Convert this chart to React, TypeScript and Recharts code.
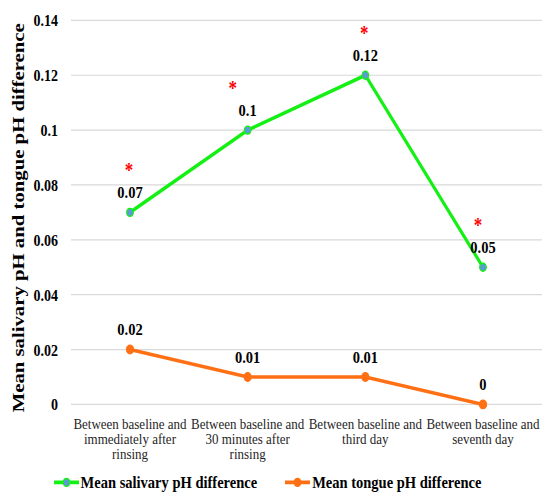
import React from "react";
import { LineChart, Line, XAxis, YAxis, CartesianGrid, Legend, LabelList } from "recharts";

const categories = [
  "Between baseline and immediately after rinsing",
  "Between baseline and 30 minutes after rinsing",
  "Between baseline and third day",
  "Between baseline and seventh day",
];
const categoryLines = [
  ["Between baseline and", "immediately after", "rinsing"],
  ["Between baseline and", "30 minutes after", "rinsing"],
  ["Between baseline and", "third day"],
  ["Between baseline and", "seventh day"],
];
const salivary = [0.07, 0.1, 0.12, 0.05];
const tongue = [0.02, 0.01, 0.01, 0];
const significant = [true, true, true, true];
const yTicks = [0, 0.02, 0.04, 0.06, 0.08, 0.1, 0.12, 0.14];

// small sideways nudges for the significance stars
const starNudge = [-1, -15, -1, -5];

const SERIF = '"Liberation Serif", "Times New Roman", serif';
const GREEN = "#14F014";
const ORANGE = "#FF7015";
const DOT_BLUE = "#5B9BD5";

const rows = categories.map((name, i) => ({
  name,
  salivary: salivary[i],
  tongue: tongue[i],
}));

const W = 542;
const H = 410;
const STRETCH = 1.2;

function CategoryTick(props: any) {
  const { x, y, index } = props;
  const lines = categoryLines[index] || [];
  return (
    <text x={x} y={y} textAnchor="middle" fontFamily={SERIF} fontSize={13} fill="#262626">
      {lines.map((l, i) => (
        <tspan key={i} x={x} y={y + 20.5 + i * 12.5}>
          {l}
        </tspan>
      ))}
    </text>
  );
}

function ValueTick(props: any) {
  const { x, y, payload } = props;
  const v = Number(Number(payload.value).toFixed(2));
  return (
    <text
      x={x}
      y={y}
      dy={5}
      textAnchor="end"
      fontFamily={SERIF}
      fontSize={14}
      fontWeight="bold"
      fill="#000"
    >
      {String(v)}
    </text>
  );
}

function Star(props: any) {
  const { index } = props;
  const vb = props.viewBox || {};
  const x = vb.x ?? props.x;
  const y = vb.y ?? props.y;
  if (!significant[index]) return null;
  return (
    <text
      x={x + starNudge[index]}
      y={y - 29.5}
      textAnchor="middle"
      fontFamily={SERIF}
      fontSize={17}
      fontWeight="bold"
      fill="#FF0000"
    >
      *
    </text>
  );
}

function LegendContent() {
  const items = [
    { label: "Mean salivary pH difference", color: GREEN, dot: DOT_BLUE },
    { label: "Mean tongue pH difference", color: ORANGE, dot: ORANGE },
  ];
  return (
    <div
      style={{
        display: "flex",
        justifyContent: "center",
        gap: 27,
        paddingRight: 8,
        fontFamily: SERIF,
        fontWeight: "bold",
        fontSize: 14.5,
        color: "#000",
        lineHeight: "16px",
      }}
    >
      {items.map((it) => (
        <div key={it.label} style={{ display: "flex", alignItems: "center" }}>
          <svg width={27} height={10} style={{ marginRight: 1 }}>
            <line x1={1} y1={5} x2={26} y2={5} stroke={it.color} strokeWidth={3} />
            <circle cx={13.5} cy={5} r={3.3} fill={it.dot} stroke={it.color} strokeWidth={1.2} />
          </svg>
          <span>{it.label}</span>
        </div>
      ))}
    </div>
  );
}

export default function App() {
  return (
    <div
      style={{
        position: "absolute",
        left: 0,
        top: 0,
        width: W,
        height: H,
        transform: `scaleY(${STRETCH})`,
        transformOrigin: "0 0",
        background: "#fff",
        fontFamily: SERIF,
      }}
    >
      <LineChart width={W} height={H} data={rows} margin={{ top: 17, right: 0, bottom: 13, left: 0 }}>
        <CartesianGrid vertical={false} stroke="#D9D9D9" />
        <XAxis
          dataKey="name"
          axisLine={false}
          tickLine={false}
          tickSize={0}
          tickMargin={0}
          height={60}
          interval={0}
          padding={{ left: 59, right: 59 }}
          tick={<CategoryTick />}
        />
        <YAxis
          width={71}
          domain={[0, 0.14]}
          ticks={yTicks}
          axisLine={false}
          tickLine={false}
          tickSize={6}
          tickMargin={7}
          tick={<ValueTick />}
          label={{
            value: "Mean salivary pH and tongue pH difference",
            angle: -90,
            position: "insideLeft",
            offset: 18,
            dy: 4.5,
            style: {
              textAnchor: "middle",
              fontFamily: SERIF,
              fontSize: 17.3,
              fontWeight: "bold",
              fill: "#000",
            },
          }}
        />
        <Legend
          layout="horizontal"
          verticalAlign="middle"
          align="center"
          wrapperStyle={{ top: 394, left: 0, width: W }}
          content={<LegendContent />}
        />
        <Line
          type="linear"
          dataKey="salivary"
          stroke={GREEN}
          strokeWidth={3}
          dot={{ r: 3.3, fill: DOT_BLUE, stroke: GREEN, strokeWidth: 1.2 }}
          isAnimationActive={false}
        >
          <LabelList
            dataKey="salivary"
            position="top"
            offset={12}
            style={{ fontFamily: SERIF, fontSize: 14.5, fontWeight: "bold", fill: "#000" }}
          />
          <LabelList dataKey="salivary" content={<Star />} />
        </Line>
        <Line
          type="linear"
          dataKey="tongue"
          stroke={ORANGE}
          strokeWidth={3}
          dot={{ r: 3.6, fill: ORANGE, stroke: ORANGE, strokeWidth: 1 }}
          isAnimationActive={false}
        >
          <LabelList
            dataKey="tongue"
            position="top"
            offset={12}
            style={{ fontFamily: SERIF, fontSize: 14.5, fontWeight: "bold", fill: "#000" }}
          />
        </Line>
      </LineChart>
    </div>
  );
}
